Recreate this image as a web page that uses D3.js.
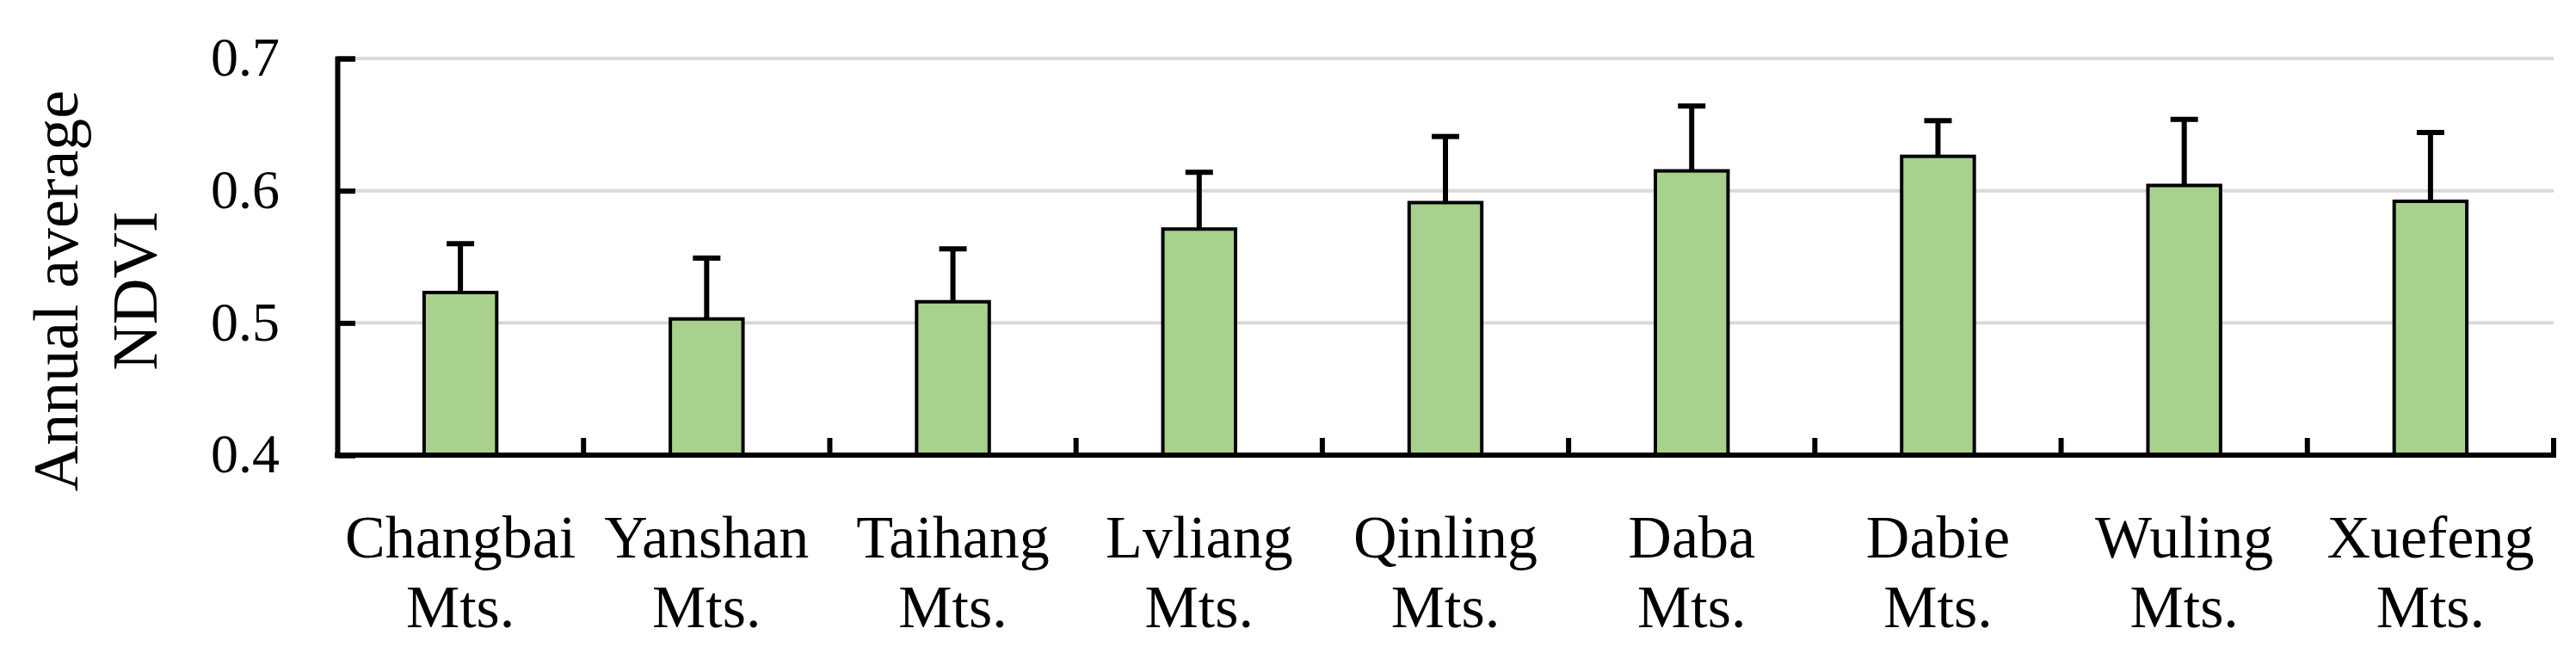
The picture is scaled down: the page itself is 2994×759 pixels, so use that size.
<!DOCTYPE html>
<html>
<head>
<meta charset="utf-8">
<script src="https://cdn.jsdelivr.net/npm/d3@7"></script>
<style>
  body { margin: 0; background: #fff; }
  text { font-family: "Liberation Serif", "Times New Roman", serif; fill: #000; }
</style>
</head>
<body>
<svg id="chart" width="2994" height="759"></svg>
<script>
var categories = ["Changbai", "Yanshan", "Taihang", "Lvliang", "Qinling", "Daba", "Dabie", "Wuling", "Xuefeng"];
var means = [0.523, 0.503, 0.516, 0.571, 0.591, 0.615, 0.626, 0.604, 0.592];
var upper = [0.560, 0.549, 0.556, 0.614, 0.641, 0.664, 0.653, 0.654, 0.644];
var yTicks = [0.4, 0.5, 0.6, 0.7];

var svg = d3.select("#chart");
var margin = {left: 392, right: 26, top: 68, bottom: 230};
var W = 2994, H = 759;

var x = d3.scaleBand()
    .domain(categories)
    .range([margin.left, W - margin.right])
    .paddingInner(0).paddingOuter(0);
var y = d3.scaleLinear()
    .domain([0.4, 0.7])
    .range([H - margin.bottom, margin.top]);

var barW = x.bandwidth() * 0.295;

// grid lines
svg.append("g").selectAll("line")
    .data(yTicks.slice(1))
    .enter().append("line")
    .attr("x1", margin.left).attr("x2", W - margin.right)
    .attr("y1", function(d) { return y(d); })
    .attr("y2", function(d) { return y(d); })
    .attr("stroke", "#d9d9d9").attr("stroke-width", 4);

// error bars
var err = svg.append("g").selectAll("g")
    .data(categories)
    .enter().append("g");
err.append("line")
    .attr("x1", function(d) { return x(d) + x.bandwidth() / 2; })
    .attr("x2", function(d) { return x(d) + x.bandwidth() / 2; })
    .attr("y1", function(d, i) { return y(means[i]); })
    .attr("y2", function(d, i) { return y(upper[i]); })
    .attr("stroke", "#000").attr("stroke-width", 6);
err.append("line")
    .attr("x1", function(d) { return x(d) + x.bandwidth() / 2 - 16; })
    .attr("x2", function(d) { return x(d) + x.bandwidth() / 2 + 16; })
    .attr("y1", function(d, i) { return y(upper[i]); })
    .attr("y2", function(d, i) { return y(upper[i]); })
    .attr("stroke", "#000").attr("stroke-width", 6);

// bars
svg.append("g").selectAll("rect")
    .data(categories)
    .enter().append("rect")
    .attr("x", function(d) { return x(d) + (x.bandwidth() - barW) / 2; })
    .attr("width", barW)
    .attr("y", function(d, i) { return y(means[i]); })
    .attr("height", function(d, i) { return y(0.4) - y(means[i]); })
    .attr("fill", "#a9d18e")
    .attr("stroke", "#000").attr("stroke-width", 4);

// y axis
var yAxis = svg.append("g")
    .attr("transform", "translate(" + margin.left + ",0)")
    .call(d3.axisLeft(y).tickValues(yTicks).tickSize(-21).tickPadding(67)
        .tickFormat(d3.format(".1f")));
yAxis.select(".domain").attr("stroke-width", 6);
yAxis.selectAll(".tick line").attr("stroke-width", 6);
yAxis.selectAll("text").style("font-size", "64px").attr("dy", "0.31em");

// x axis
var bounds = categories.map(function(d) { return x(d); }).concat([W - margin.right]);
svg.append("g").selectAll("line")
    .data(bounds.slice(1))
    .enter().append("line")
    .attr("x1", function(d) { return d; }).attr("x2", function(d) { return d; })
    .attr("y1", y(0.4)).attr("y2", y(0.4) - 20)
    .attr("stroke", "#000").attr("stroke-width", 6);
svg.append("line")
    .attr("x1", margin.left - 3).attr("x2", W - margin.right + 3)
    .attr("y1", y(0.4)).attr("y2", y(0.4))
    .attr("stroke", "#000").attr("stroke-width", 6);

var lab = svg.append("g").selectAll("text")
    .data(categories)
    .enter().append("text")
    .attr("text-anchor", "middle")
    .style("font-size", "70px");
lab.append("tspan")
    .attr("x", function(d) { return x(d) + x.bandwidth() / 2; })
    .attr("y", 648)
    .text(function(d) { return d; });
lab.append("tspan")
    .attr("x", function(d) { return x(d) + x.bandwidth() / 2; })
    .attr("y", 729)
    .text("Mts.");

// y title
var title = svg.append("text")
    .attr("transform", "translate(0,338) rotate(-90)")
    .attr("text-anchor", "middle")
    .style("font-size", "74px");
title.append("tspan").attr("x", 0).attr("y", 90).text("Annual average");
title.append("tspan").attr("x", 0).attr("y", 182).text("NDVI");
</script>
</body>
</html>
